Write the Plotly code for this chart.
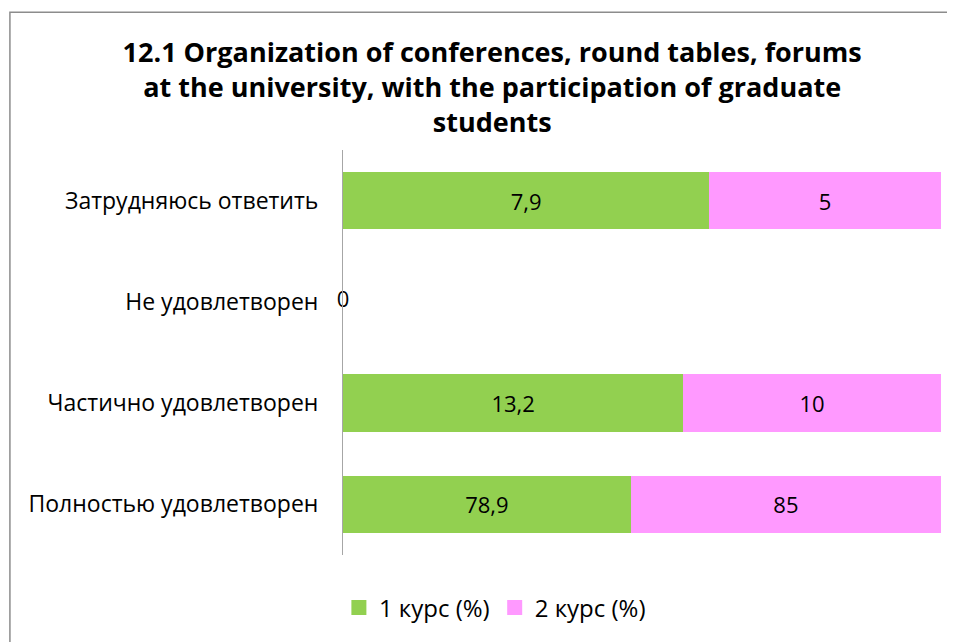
import plotly.graph_objects as go

# categories bottom -> top, as drawn on the chart
categories = ['Полностью удовлетворен', 'Частично удовлетворен',
              'Не удовлетворен', 'Затрудняюсь ответить']
course1 = [78.9, 13.2, 0, 7.9]
course2 = [85, 10, 0, 5]
series_names = ['1 курс (%)', '2 курс (%)']
colors = ['#92D050', '#FF99FF']


def fmt(v):
    return ('%g' % v).replace('.', ',')


totals = [a + b for a, b in zip(course1, course2)]

fig = go.Figure()
for name, vals, col in zip(series_names, [course1, course2], colors):
    share = [v / t * 100 if t else 0 for v, t in zip(vals, totals)]
    fig.add_trace(go.Bar(
        y=categories, x=share, orientation='h', name=name,
        marker=dict(color=col, line=dict(width=0)),
        text=[fmt(v) if t else '' for v, t in zip(vals, totals)],
        textposition='inside', insidetextanchor='middle',
        textfont=dict(size=22, color='black'),
        showlegend=False, hoverinfo='skip'))
    # bigger square swatch for the legend
    fig.add_trace(go.Scatter(
        x=[None], y=[None], mode='markers', name=name,
        marker=dict(symbol='square', size=15, color=col)))

# rows with no answers at all get just a "0" on the axis
zero_rows = [c for c, t in zip(categories, totals) if t == 0]
fig.add_trace(go.Scatter(
    y=zero_rows, x=[0] * len(zero_rows), mode='text',
    text=[fmt(course1[categories.index(c)]) for c in zero_rows],
    textposition='middle center', textfont=dict(size=22, color='black'),
    showlegend=False, hoverinfo='skip', cliponaxis=False))

fig.update_layout(
    width=955, height=642,
    barmode='stack', bargap=0.43,
    margin=dict(l=335, r=22, t=142, b=95),
    paper_bgcolor='white', plot_bgcolor='white',
    font=dict(family='Open Sans', size=22, color='black'),
    title=dict(
        text='<b>12.1 Organization of conferences, round tables, forums<br>'
             'at the university, with the participation of graduate<br>students</b>',
        x=0.507, xanchor='center', y=0.916, yanchor='top',
        font=dict(family='Open Sans', size=27, color='black')),
    xaxis=dict(range=[0, 100], showticklabels=False, showgrid=False,
               zeroline=False, showline=False, fixedrange=True),
    yaxis=dict(showline=True, linecolor='#A6A6A6', linewidth=1, ticks='',
               ticklabelstandoff=19, showgrid=False, zeroline=False,
               tickfont=dict(size=23)),
    legend=dict(orientation='h', x=0.254, xanchor='center', y=-0.075,
                yanchor='top', font=dict(size=24), itemwidth=30,
                traceorder='normal'),
    shapes=[dict(type='rect', xref='paper', yref='paper',
                 x0=-0.557, x1=1.2, y0=-0.4, y1=1.34,
                 line=dict(color='#8C8C8C', width=1.5), layer='below')],
)

fig.write_html('out.html')
